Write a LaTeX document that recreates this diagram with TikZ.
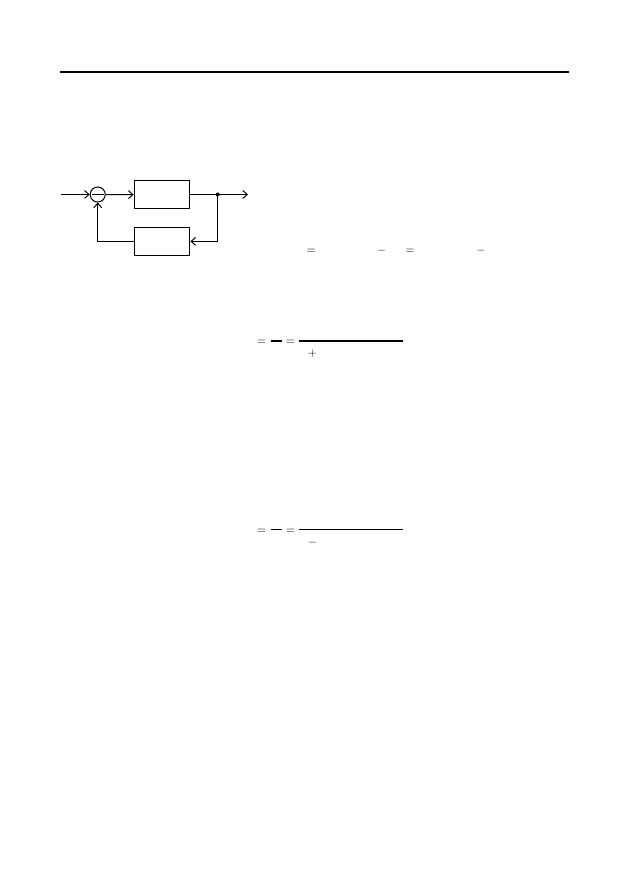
\documentclass[tikz,border=0pt]{standalone}
\usepackage{tikz}
\usetikzlibrary{positioning, arrows.meta}
\tikzstyle{blk} = [rectangle, draw, line width=0.95pt, minimum width=53pt, minimum height=26.3pt, inner sep=0pt]
\tikzstyle{sumpt} = [circle, draw, line width=0.95pt, minimum size=14.3pt, inner sep=0pt]
\tikzstyle{sig} = [line width=0.95pt, -{Straight Barb[length=4.2pt, width=7.5pt, line width=0.95pt]}]
\tikzstyle{op} = [inner sep=0pt, anchor=base, font=\fontsize{11.4}{14}\selectfont]
\tikzstyle{bar} = [line width=1pt]

\begin{document}
\begin{tikzpicture}[x=0.95pt, y=-0.95pt, node distance=17pt]

    \useasboundingbox[fill=white] (0,0) rectangle (629,893);

    % header rule
    \draw[line width=1pt] (60,72) -- (569,72);

    % block diagram
    \coordinate (in) at (61,194.5);
    \node[sumpt] (S) at (97.7,194.5) {};
    \draw[line width=0.95pt] ([xshift=-5.8pt]S.center) -- ([xshift=5.8pt]S.center);
    \node[blk] (G) at (162,194.8) {};
    \node[blk, below=of G] (H) {};
    \coordinate (out) at (248,194.5);
    \coordinate (tap) at (217.7,194.5);
    \fill (tap) circle (2);

    \draw[sig] (in) -- (S);
    \draw[sig] (S) -- (G);
    \draw[sig] (G.east |- tap) -- (out);
    \draw[sig] (tap) |- (H.east);
    \draw[sig] (H.west) -| (S.south);

    % first row (baselines, math axis 3px higher)
    \node[op] (e1) at (311,253.7) {$=$};
    \node[op] (m1) at (381.7,253.7) {$-$};
    \node[op] (e2) at (410,253.7) {$=$};
    \node[op] (m2) at (481,253.7) {$-$};

    % second row
    \node[op] (e3) at (261.7,344) {$=$};
    \draw[bar] (271.3,341) -- (282.3,341);
    \node[op] (e4) at (290.7,344) {$=$};
    \draw[bar] (299.3,341) -- (402.7,341);
    \node[op] (p1) at (312.3,356.7) {$+$};

    % third row
    \node[op] (e5) at (261.7,533) {$=$};
    \draw[bar] (271.3,529.5) -- (282.3,529.5);
    \node[op] (e6) at (290.7,533) {$=$};
    \draw[bar] (299.3,529.5) -- (402.7,529.5);
    \node[op] (m3) at (312.3,545.7) {$-$};

\end{tikzpicture}
\end{document}
